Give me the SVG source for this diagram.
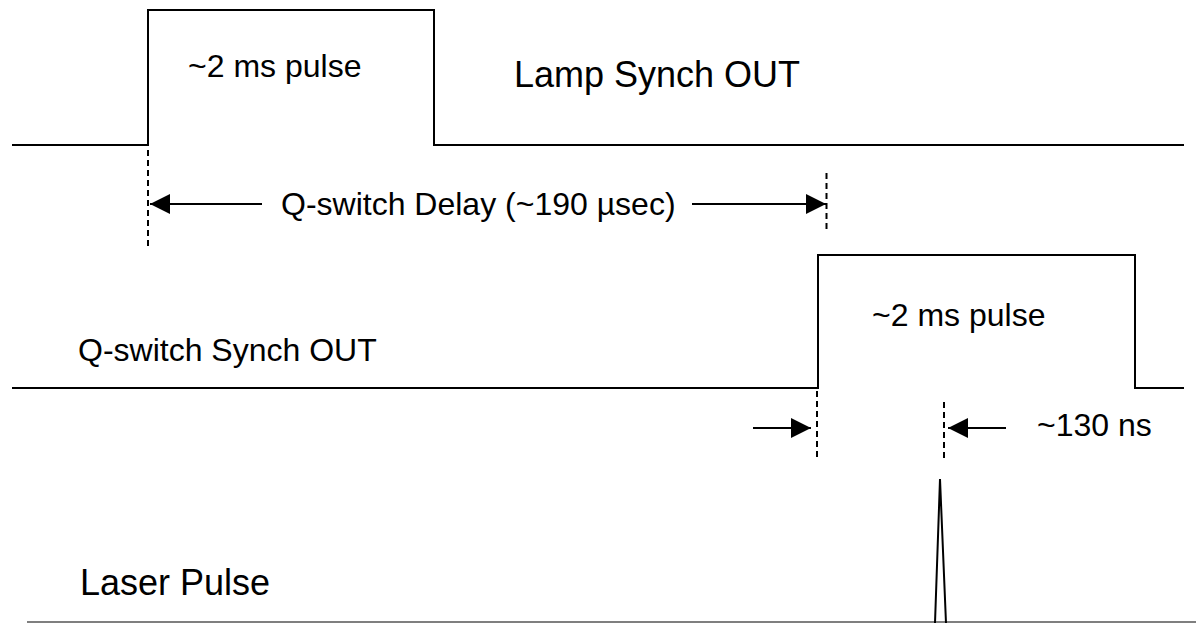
<svg xmlns="http://www.w3.org/2000/svg" width="1196" height="623" viewBox="0 0 1196 623">
<style>
.sig{fill:none;stroke:#000;stroke-width:2}
.dash{fill:none;stroke:#000;stroke-width:2;stroke-dasharray:6 4}
.arr{fill:none;stroke:#000;stroke-width:2;marker-end:url(#ah)}
text{font-family:"Liberation Sans",Arial,sans-serif;fill:#000}
</style>
<defs>
<marker id="ah" markerUnits="userSpaceOnUse" markerWidth="20" markerHeight="20" refX="20" refY="10" orient="auto">
<path d="M0,0 L20,10 L0,20 z" fill="#000"/>
</marker>
</defs>
<rect width="1196" height="623" fill="#fff"/>
<g id="lamp-synch">
<polyline class="sig" points="12,145 148,145 148,10 434,10 434,145 1184,145"/>
<text x="188" y="77" font-size="32">~2 ms pulse</text>
<text x="514" y="87" font-size="36">Lamp Synch OUT</text>
</g>
<g id="qswitch-synch">
<polyline class="sig" points="12,388 818,388 818,255 1135,255 1135,388 1184,388"/>
<text x="872" y="326" font-size="32">~2 ms pulse</text>
<text x="78" y="361" font-size="32">Q-switch Synch OUT</text>
</g>
<g id="laser-pulse">
<line x1="27" y1="622" x2="1196" y2="622" stroke="#555" stroke-width="1.5"/>
<polyline class="sig" points="935,623 940,479 946,623"/>
<text x="80" y="595" font-size="36">Laser Pulse</text>
</g>
<g id="delay-label">
<text x="281" y="215" font-size="32">Q-switch Delay (~190 µsec)</text>
</g>
<g id="ns-label">
<text x="1037" y="436" font-size="32">~130 ns</text>
</g>
<g id="connectors">
<line class="dash" x1="148" y1="150" x2="148" y2="250"/>
<line class="dash" x1="826.5" y1="173" x2="826.5" y2="232"/>
<line class="dash" x1="817" y1="391" x2="817" y2="461"/>
<line class="dash" x1="944" y1="402" x2="944" y2="461"/>
<line class="arr" x1="262" y1="204" x2="150" y2="204"/>
<line class="arr" x1="692" y1="204" x2="826" y2="204"/>
<line class="arr" x1="753" y1="428" x2="811" y2="428"/>
<line class="arr" x1="1006" y1="428" x2="948" y2="428"/>
</g>
</svg>
